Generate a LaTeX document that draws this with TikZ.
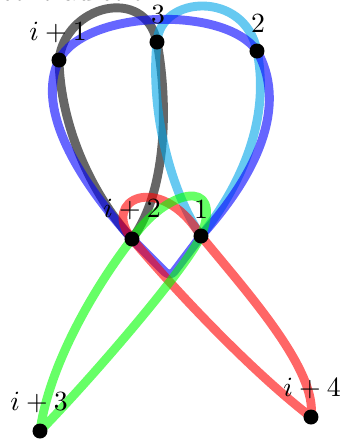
\documentclass[tikz,border=0pt]{standalone}
\usepackage{tikz}
\usetikzlibrary{positioning, backgrounds}
\definecolor{loopSky}{RGB}{0, 165, 232}

\tikzset{
  strand/.style={line width=3.2pt, opacity=0.6, line join=round, line cap=round},
  dot/.style={circle, fill=black, inner sep=0pt, minimum size=5.4pt}
}

\begin{document}
\begin{tikzpicture}[x=0.36pt, y=-0.36pt]
        \useasboundingbox (0,0) rectangle (344,441);
        \clip (0,0) rectangle (344,441);
        \node[anchor=base west, inner sep=0pt] (caption) at (0,0.5) {contradiction.};

        \node[dot] (i1) at (59,60) {};
        \node[dot] (n3) at (157,42) {};
        \node[dot] (n2) at (257,51) {};
        \node[dot] (i2) at (132,239) {};
        \node[dot] (n1) at (201,236) {};
        \node[dot] (i3) at (40,431) {};
        \node[dot] (i4) at (311,417) {};
        \coordinate (dip) at (170,277);

        \node (li1) at (58,32) {$i+1$};
        \node (ln3) at (158,15) {$3$};
        \node (ln2) at (258,24) {$2$};
        \node (li2) at (132,209) {$i+2$};
        \node (ln1) at (201,210) {$1$};
        \node (li3) at (39,402) {$i+3$};
        \node (li4) at (312,388) {$i+4$};

        \begin{scope}[on background layer]
        \draw[strand, draw=black] (i2.center) .. controls (80,180) and (60,110) .. (i1.center) .. controls (65,5) and (145,-15) .. (n3.center) .. controls (168,100) and (168,190) .. (i2.center);
        \draw[strand, draw=loopSky] (n1.center) .. controls (170,190) and (150,110) .. (n3.center) .. controls (160,-5) and (245,-10) .. (n2.center) .. controls (270,115) and (245,180) .. (n1.center);
        \draw[strand, draw=blue] (i1.center) .. controls (85,10) and (225,5) .. (n2.center) .. controls (285,100) and (265,165) .. (n1.center) [rounded corners=2.5pt] -- (dip) -- (i2.center) [sharp corners] .. controls (80,180) and (35,110) .. (i1.center);
        \draw[strand, draw=red] (i4.center) .. controls (250,370) and (175,290) .. (i2.center) .. controls (100,200) and (160,170) .. (n1.center) .. controls (245,290) and (318,370) .. (i4.center);
        \draw[strand, draw=green] (i3.center) .. controls (50,360) and (100,280) .. (i2.center) .. controls (165,190) and (225,175) .. (n1.center) .. controls (185,270) and (90,380) .. (i3.center);
        \end{scope}
    \end{tikzpicture}
\end{document}
